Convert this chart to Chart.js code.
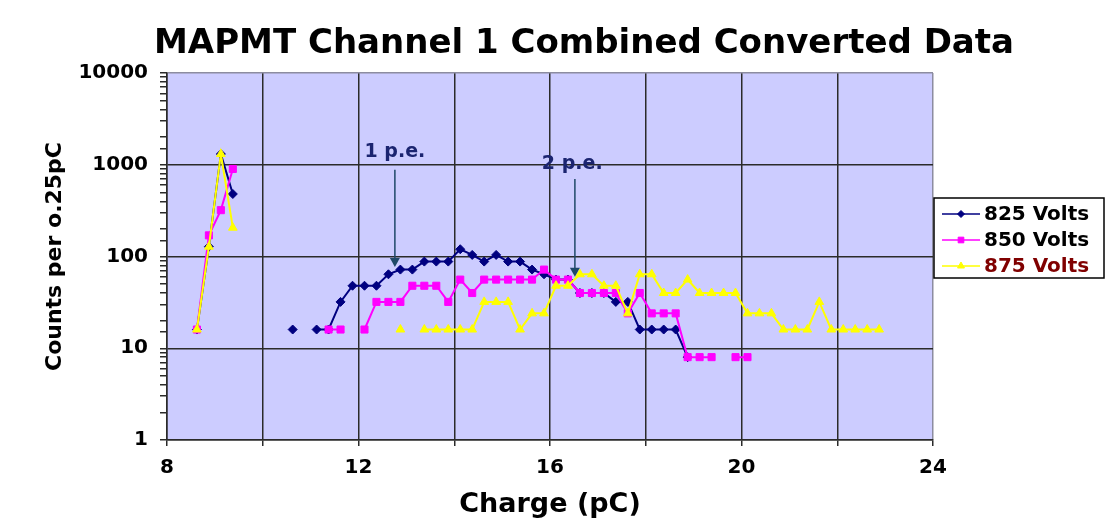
<!DOCTYPE html>
<html>
<head>
<meta charset="utf-8">
<title>MAPMT Channel 1 Combined Converted Data</title>
<script src="https://cdn.jsdelivr.net/npm/chart.js@4.4.1/dist/chart.umd.min.js"></script>
<style>
  html, body { margin: 0; padding: 0; background: #fff; }
  canvas { display: block; }
</style>
</head>
<body>
<canvas id="chart" width="1105" height="531"></canvas>
<script>
// ── Data ────────────────────────────────────────
const chartTitle  = 'MAPMT Channel 1 Combined Converted Data';
const seriesNames = ['825 Volts', '850 Volts', '875 Volts'];
const xTickLabels = [8, 12, 16, 20, 24];
const yTickLabels = [1, 10, 100, 1000, 10000];

// bin centres, 0.25 pC wide (4 per row)
const charge = [
  8.625, 8.875, 9.125, 9.375,
  9.625, 9.875, 10.125, 10.375,
  10.625, 10.875, 11.125, 11.375,
  11.625, 11.875, 12.125, 12.375,
  12.625, 12.875, 13.125, 13.375,
  13.625, 13.875, 14.125, 14.375,
  14.625, 14.875, 15.125, 15.375,
  15.625, 15.875, 16.125, 16.375,
  16.625, 16.875, 17.125, 17.375,
  17.625, 17.875, 18.125, 18.375,
  18.625, 18.875, 19.125, 19.375,
  19.625, 19.875, 20.125, 20.375,
  20.625, 20.875, 21.125, 21.375,
  21.625, 21.875, 22.125, 22.375,
  22.625, 22.875,
];

const volts825 = [
  16, 128, 1310, 480,
  null, null, null, null,
  16, null, 16, 16,
  32, 48, 48, 48,
  64, 72, 72, 88,
  88, 88, 120, 104,
  88, 104, 88, 88,
  72, 64, 56, 56,
  40, 40, 40, 32,
  32, 16, 16, 16,
  16, 8, null, null,
  null, null, null, null,
  null, null, null, null,
  null, null, null, null,
  null, null,
];

const volts850 = [
  16, 170, 320, 900,
  null, null, null, null,
  null, null, null, 16,
  16, null, 16, 32,
  32, 32, 48, 48,
  48, 32, 56, 40,
  56, 56, 56, 56,
  56, 72, 56, 56,
  40, 40, 40, 40,
  24, 40, 24, 24,
  24, 8, 8, 8,
  null, 8, 8, null,
  null, null, null, null,
  null, null, null, null,
  null, null,
];

const volts875 = [
  16, 128, 1310, 206,
  null, null, null, null,
  null, null, null, null,
  null, null, null, null,
  null, 16, null, 16,
  16, 16, 16, 16,
  32, 32, 32, 16,
  24, 24, 48, 48,
  64, 64, 48, 48,
  24, 64, 64, 40,
  40, 56, 40, 40,
  40, 40, 24, 24,
  24, 16, 16, 16,
  32, 16, 16, 16,
  16, 16,
];

// p.e. annotations (data coordinates)
const peMarks = [
  { text: '1 p.e.', textAt: [12.125, 1380], from: [12.76, 880], to: [12.76, 77] },
  { text: '2 p.e.', textAt: [15.83, 1020],  from: [16.52, 700], to: [16.52, 60] },
];

// ── Styles ──────────────────────────────────────
const FONT      = '"DejaVu Sans", "Liberation Sans", Arial, sans-serif';
const GRID      = '#2a2a2a';
const GRID_EDGE = '#8c8ca0';
const PLOT_BG   = '#ccccff';

const seriesStyle = [
  { color: '#000080', pointStyle: 'rectRot',  radius: 4.5, text: '#000000' },
  { color: '#ff00ff', pointStyle: 'rect',     radius: 5,   text: '#000000' },
  { color: '#ffff00', pointStyle: 'triangle', radius: 5,   text: '#800000' },
];

const isDecade = v => Math.abs(Math.log10(v) - Math.round(Math.log10(v))) < 1e-9;

function makeDataset(name, values, i) {
  const s = seriesStyle[i];
  return {
    label:                name,
    data:                 charge.map((x, k) => ({ x: x, y: values[k] })),
    borderColor:          s.color,
    backgroundColor:      s.color,
    borderWidth:          2,
    pointStyle:           s.pointStyle,
    pointRadius:          s.radius,
    pointBorderColor:     s.color,
    pointBackgroundColor: s.color,
    pointBorderWidth:     1,
    tension:              0,
    spanGaps:             false,
    order:                3 - i,   // 875 on top, as in the original
  };
}

// ── Plugins ─────────────────────────────────────
const plotBg = {
  id: 'plotBg',
  beforeDraw(chart) {
    const { ctx, chartArea: a } = chart;
    ctx.save();
    ctx.fillStyle = '#fff';
    ctx.fillRect(0, 0, chart.width, chart.height);
    ctx.fillStyle = PLOT_BG;
    ctx.fillRect(a.left, a.top, a.right - a.left, a.bottom - a.top);
    ctx.restore();
  },
};

const titleText = {
  id: 'titleText',
  afterDraw(chart) {
    const ctx = chart.ctx;
    ctx.save();
    ctx.font         = 'bold 34px ' + FONT;
    ctx.fillStyle    = '#000';
    ctx.textAlign    = 'center';
    ctx.textBaseline = 'middle';
    ctx.fillText(chartTitle, chart.chartArea.left + 417, 44);
    ctx.restore();
  },
};

const peArrows = {
  id: 'peArrows',
  afterDatasetsDraw(chart) {
    const { ctx, scales: { x, y } } = chart;
    ctx.save();
    peMarks.forEach(m => {
      const x0 = x.getPixelForValue(m.from[0]), y0 = y.getPixelForValue(m.from[1]);
      const x1 = x.getPixelForValue(m.to[0]),   y1 = y.getPixelForValue(m.to[1]);
      ctx.strokeStyle = '#1f4868';
      ctx.fillStyle   = '#1f4868';
      ctx.lineWidth   = 1.5;
      ctx.beginPath();
      ctx.moveTo(x0, y0);
      ctx.lineTo(x1, y1 - 8);
      ctx.stroke();
      ctx.beginPath();
      ctx.moveTo(x1 - 5, y1 - 9);
      ctx.lineTo(x1 + 5, y1 - 9);
      ctx.lineTo(x1, y1);
      ctx.closePath();
      ctx.fill();

      ctx.font         = 'bold 19px ' + FONT;
      ctx.fillStyle    = '#1b2470';
      ctx.textAlign    = 'left';
      ctx.textBaseline = 'middle';
      ctx.fillText(m.text, x.getPixelForValue(m.textAt[0]), y.getPixelForValue(m.textAt[1]));
    });
    ctx.restore();
  },
};

const boxLegend = {
  id: 'boxLegend',
  afterDraw(chart) {
    const ctx  = chart.ctx;
    const left = chart.chartArea.right + 1;
    const top  = 198;
    ctx.save();
    ctx.fillStyle   = '#fff';
    ctx.strokeStyle = '#000';
    ctx.lineWidth   = 1.5;
    ctx.fillRect(left, top, 170, 80);
    ctx.strokeRect(left, top, 170, 80);
    chart.data.datasets.forEach((ds, i) => {
      const s  = seriesStyle[i];
      const cy = top + 16 + i * 26;
      ctx.strokeStyle = s.color;
      ctx.lineWidth   = 1.5;
      ctx.beginPath();
      ctx.moveTo(left + 8, cy);
      ctx.lineTo(left + 46, cy);
      ctx.stroke();
      ctx.fillStyle   = s.color;
      ctx.strokeStyle = s.color;
      ctx.lineWidth   = 1;
      Chart.helpers.drawPoint(ctx, { pointStyle: s.pointStyle, radius: s.radius - 1, rotation: 0, borderWidth: 1 }, left + 27, cy);
      ctx.font         = 'bold 20px ' + FONT;
      ctx.fillStyle    = s.text;
      ctx.textAlign    = 'left';
      ctx.textBaseline = 'middle';
      ctx.fillText(ds.label, left + 50, cy + 1);
    });
    ctx.restore();
  },
};

// ── Chart ───────────────────────────────────────
new Chart(document.getElementById('chart'), {
  type: 'line',
  data: {
    datasets: [
      makeDataset(seriesNames[0], volts825, 0),
      makeDataset(seriesNames[1], volts850, 1),
      makeDataset(seriesNames[2], volts875, 2),
    ],
  },
  options: {
    responsive: false,
    animation:  false,
    layout: { padding: { top: 73, right: 172, bottom: 0, left: 0 } },
    plugins: {
      legend:  { display: false },
      tooltip: { enabled: false },
    },
    scales: {
      x: {
        type: 'linear',
        min:  8,
        max:  24,
        ticks: {
          stepSize: 2, autoSkip: false, maxRotation: 0, padding: 10, color: '#000',
          font: { family: FONT, size: 20, weight: 'bold' },
          callback: v => xTickLabels.includes(v) ? String(v) : '',
        },
        grid: {
          color:      c => (c.tick && c.tick.value === 24) ? GRID_EDGE : GRID,
          lineWidth:  1.5,
          tickLength: 6,
          tickColor:  GRID,
        },
        border: { color: GRID, width: 1.5 },
        title: {
          display: true, text: 'Charge (pC)', color: '#000',
          font: { family: FONT, size: 27, weight: 'bold' },
          padding: { top: 0, bottom: 10 },
        },
        afterFit: s => { s.height = 91; },
      },
      y: {
        type: 'logarithmic',
        min:  1,
        max:  10000,
        ticks: {
          autoSkip: false, padding: 12, color: '#000',
          font: { family: FONT, size: 20, weight: 'bold' },
          callback: v => yTickLabels.includes(v) ? String(v) : '',
        },
        grid: {
          color: c => {
            const v = c.tick ? c.tick.value : 1;
            if (!isDecade(v)) return 'rgba(0,0,0,0)';
            return v === 10000 ? GRID_EDGE : GRID;
          },
          lineWidth:  1.5,
          tickLength: 7,
          tickColor:  GRID,
        },
        border: { color: GRID, width: 1.5 },
        title: {
          display: true, text: 'Counts per o.25pC', color: '#000',
          font: { family: FONT, size: 22, weight: 'bold' },
          padding: { top: 42, bottom: 0 },
        },
        afterFit: s => { s.width = 167; },
      },
    },
  },
  plugins: [plotBg, titleText, peArrows, boxLegend],
});
</script>
</body>
</html>
